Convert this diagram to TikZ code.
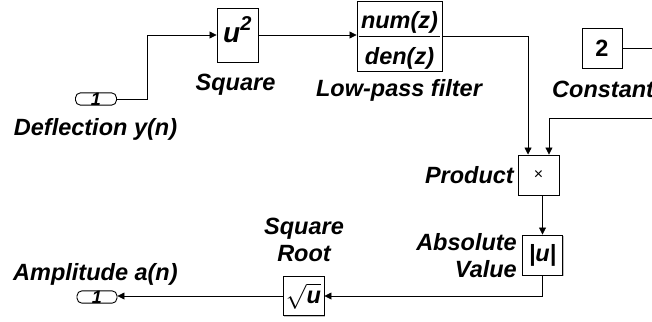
\documentclass[tikz,border=0pt]{standalone}
\usepackage{fontspec}
\setmainfont{Liberation Sans}
\usetikzlibrary{arrows.meta,shadows,calc}
\begin{document}
\begin{tikzpicture}[x=1pt,y=-1pt,
  blk/.style={draw, line width=0.9pt, fill=white, inner sep=0pt,
    drop shadow={shadow xshift=1.2pt,shadow yshift=-1.2pt,fill=black!50,opacity=0.5}},
  port/.style={draw, line width=0.9pt, fill=white, rounded corners=5pt, inner sep=0pt,
    minimum width=41pt, minimum height=11.5pt,
    font=\fontsize{18}{18}\selectfont\bfseries\itshape},
  lbl/.style={inner sep=0pt, font=\fontsize{23.5}{27}\selectfont\bfseries\itshape},
  wire/.style={line width=0.8pt},
  arr/.style={wire, -{Triangle[length=7pt,width=7pt]}},
]
\useasboundingbox (0,0) rectangle (652,321);

% blocks
\node[port] (in) at (96,99) {1};
\node[blk, minimum width=41pt, minimum height=54pt] (sq) at (237.5,35) {};
\node[lbl, anchor=base west] (sqtxt) at (223,43) {{\fontsize{28}{28}\selectfont u}\raisebox{13pt}{\fontsize{20}{20}\selectfont 2}};
\node[blk, minimum width=85pt, minimum height=70pt] (lpf) at (399.5,36) {};
\node[lbl, anchor=base] (num) at (399.5,28.5) {num(z)};
\node[lbl, anchor=base] (den) at (399.5,64) {den(z)};
\draw[wire] ([xshift=2pt]lpf.west) -- ([xshift=-2pt]lpf.east);
\node[blk, lbl, minimum size=40pt] (const) at (602,48) {\upshape 2};
\node[blk, minimum width=41pt, minimum height=40pt, font=\fontsize{16}{16}\selectfont] (prod) at (538.5,175) {×};
\node[blk, lbl, minimum size=40pt] (abs) at (542.5,255) {|u|};
\node[blk, lbl, minimum width=41pt, minimum height=39pt] (sqrt) at (303.5,296) {$\sqrt{\mbox{\bfseries\itshape u}}$};
\node[port, minimum width=40pt, minimum height=10.5pt] (out) at (97,297) {1};

% labels
\node[lbl, anchor=base] (lin) at (95.5,135) {Deflection y(n)};
\node[lbl, anchor=base] (lsq) at (235.5,90) {Square};
\node[lbl, anchor=base] (llpf) at (399,96) {Low-pass filter};
\node[lbl, anchor=base west] (lconst) at (552,97) {Constant};
\node[lbl, anchor=base east] (lprod) at (514,183) {Product};
\node[lbl, anchor=north east, align=right] (labs) at (517,233) {Absolute\\Value};
\node[lbl, anchor=north, align=center] (lsr) at (304,218) {Square\\Root};
\node[lbl, anchor=base west] (lout) at (13,280) {Amplitude a(n)};

% connectors
\coordinate (p1) at ($(prod.north west)!0.25!(prod.north east)$);
\coordinate (p2) at ($(prod.north west)!0.75!(prod.north east)$);
\coordinate (ce) at (652,48);
\coordinate (fb) at (652,118);
\draw[arr] (in.east) -- ++(30,0) |- (sq.west);
\draw[arr] (sq.east) -- (sq.east -| lpf.west);
\draw[arr] (lpf.east) -| (p1);
\draw[wire] (const.east) -- (ce);
\draw[arr] (fb) -| (p2);
\draw[arr] (prod.south -| abs.north) -- (abs.north);
\draw[arr] (abs.south) |- (sqrt.east);
\draw[arr] (sqrt.west) -- (sqrt.west -| out.east);
\end{tikzpicture}
\end{document}
